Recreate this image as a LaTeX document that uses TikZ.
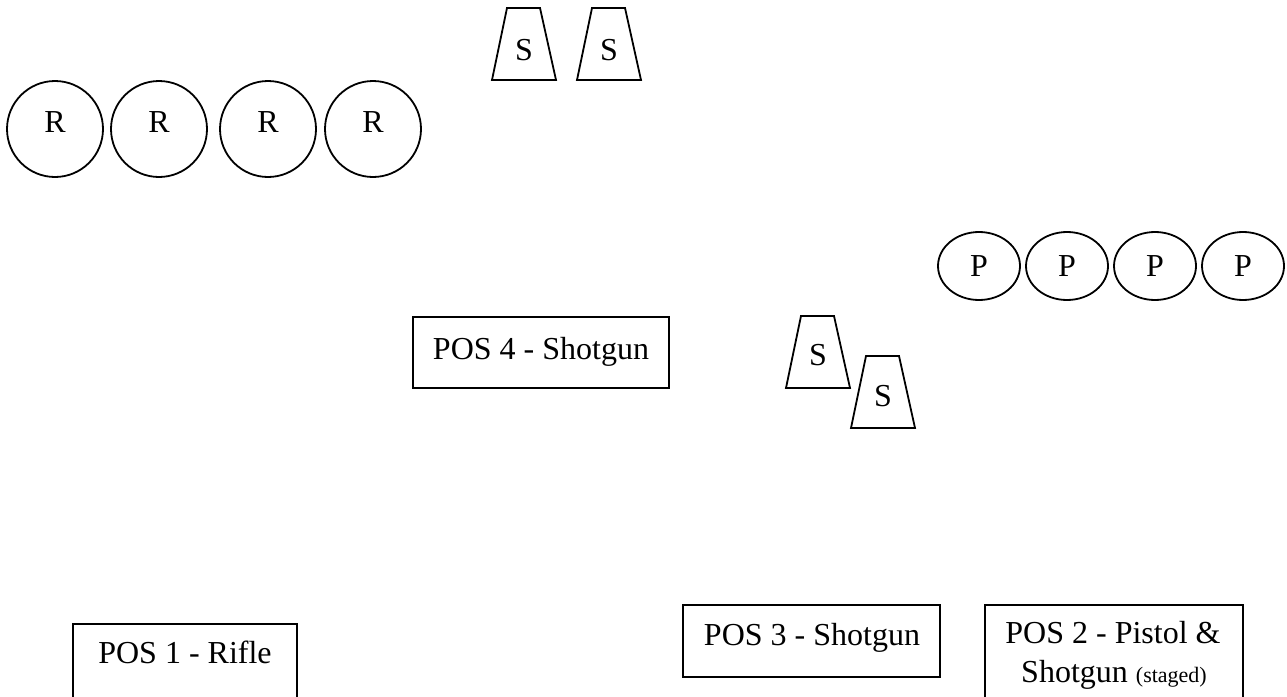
\documentclass[tikz,border=0pt]{standalone}
\usepackage{fontspec}
\setmainfont{Liberation Serif}
\usetikzlibrary{shapes.geometric}
\begin{document}
\begin{tikzpicture}[x=1pt,y=-1pt,
  every node/.style={font=\fontsize{32}{38}\selectfont},
  shp/.style={line width=1.8pt, line join=miter},
  rtarget/.style={draw, circle, line width=1.8pt, minimum size=96pt, inner sep=0pt, text depth=13pt},
  ptarget/.style={draw, ellipse, line width=1.8pt, minimum width=82pt, minimum height=68pt, inner sep=0pt},
  lbl/.style={inner sep=0pt, anchor=base}]
\useasboundingbox (0,0) rectangle (1287,696);
% shotgun targets (trapezoids)
\newcommand{\sgtarget}[4]{%
  \draw[shp] (#1-17,#2-36) -- (#1+16,#2-36) -- (#1+32,#2+36) -- (#1-32,#2+36) -- cycle;
  \node[lbl] (#3) at (#1,#4) {S};}
\sgtarget{524}{44}{s1}{60}
\sgtarget{609}{44}{s2}{60}
\sgtarget{818}{352}{s3}{365}
\sgtarget{883}{392}{s4}{406}
% rifle targets
\node[rtarget] (r1) at (55,129) {R};
\node[rtarget] (r2) at (159,129) {R};
\node[rtarget] (r3) at (268,129) {R};
\node[rtarget] (r4) at (373,129) {R};
% pistol targets
\node[ptarget] (p1) at (979,266) {P};
\node[ptarget] (p2) at (1067,266) {P};
\node[ptarget] (p3) at (1155,266) {P};
\node[ptarget] (p4) at (1243,266) {P};
% positions
\draw[shp] (413,317) rectangle (669,388);
\node[lbl] (pos4) at (541,359) {POS 4 - Shotgun};
\draw[shp] (73,624) rectangle (297,699);
\node[lbl] (pos1) at (185,663) {POS 1 - Rifle};
\draw[shp] (683,605) rectangle (940,677);
\node[lbl] (pos3) at (812,645) {POS 3 - Shotgun};
\draw[shp] (985,605) rectangle (1243,699);
\node[lbl] (pos2a) at (1113,643) {POS 2 - Pistol \&};
\node[lbl] (pos2b) at (1114,682) {Shotgun {\fontsize{22}{26}\selectfont(staged)}};
\end{tikzpicture}
\end{document}
